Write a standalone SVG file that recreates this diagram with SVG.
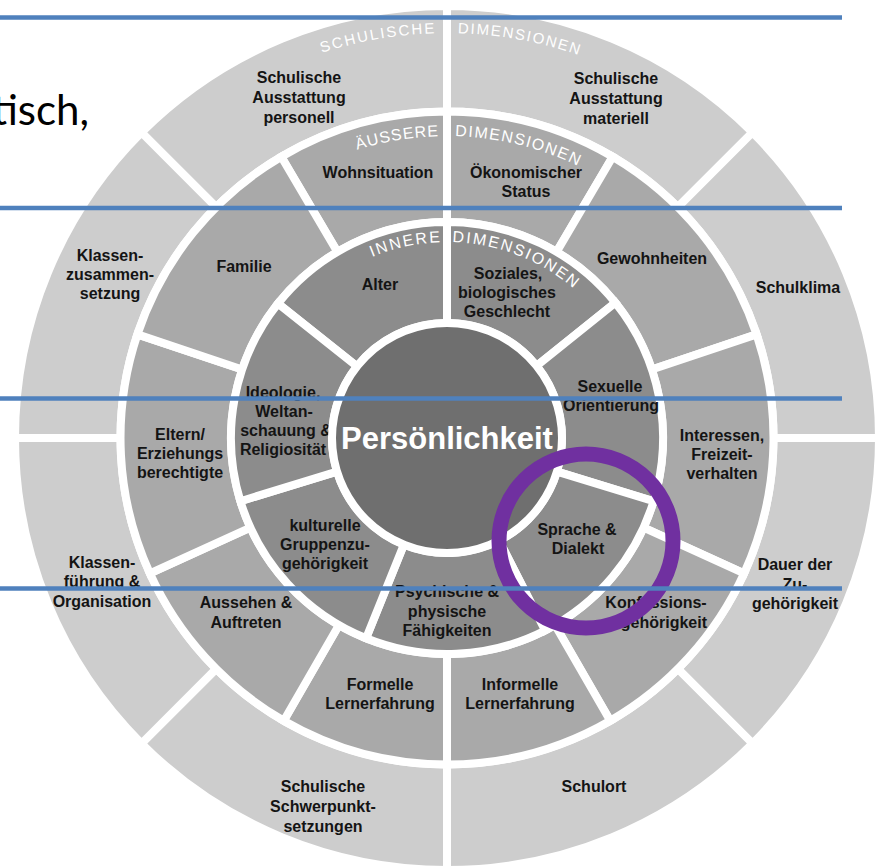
<svg xmlns="http://www.w3.org/2000/svg" xmlns:xlink="http://www.w3.org/1999/xlink" width="879" height="867" viewBox="0 0 879 867">
<defs>
<style>
.o{fill:#cdcdcd;stroke:#fff;stroke-width:8}
.m{fill:#a9a9a9;stroke:#fff;stroke-width:8}
.i{fill:#8c8c8c;stroke:#fff;stroke-width:8}
.lbl{font-family:"Liberation Sans",Arial,sans-serif;font-weight:bold;font-size:16px;fill:#141414;text-anchor:middle}
.arc{font-family:"Liberation Sans",Arial,sans-serif;fill:#fff;font-size:16px;letter-spacing:1.9px}
.blue{stroke:#4f81bd;stroke-width:4.5;fill:none}
</style>
<path id="arcOuter" d="M96.3,235.5 A405,405 0 0 1 797.7,235.5"/>
<path id="arcMid" d="M185.5,287 A302,302 0 0 1 708.5,287"/>
<path id="arcInner" d="M277.3,340 A196,196 0 0 1 616.7,340"/>
</defs>
<rect width="879" height="867" fill="#fff"/>

<g id="outer-ring">
<g id="o-personell"><path class="o" d="M141.5,132.5 A432,432 0 0 1 447,6 L447,111.5 A326.5,326.5 0 0 0 216.1,207.1 Z"/>
<text class="lbl"><tspan x="299" y="83">Schulische</tspan><tspan x="299" y="103">Ausstattung</tspan><tspan x="299" y="123">personell</tspan></text></g>
<g id="o-materiell"><path class="o" d="M447,6 A432,432 0 0 1 752.5,132.5 L677.9,207.1 A326.5,326.5 0 0 0 447,111.5 Z"/>
<text class="lbl"><tspan x="616" y="84">Schulische</tspan><tspan x="616" y="104">Ausstattung</tspan><tspan x="616" y="124">materiell</tspan></text></g>
<g id="o-schulklima"><path class="o" d="M752.5,132.5 A432,432 0 0 1 879,438 L773.5,438 A326.5,326.5 0 0 0 677.9,207.1 Z"/>
<text class="lbl" x="798" y="293">Schulklima</text></g>
<g id="o-dauer"><path class="o" d="M879,438 A432,432 0 0 1 752.5,743.5 L677.9,668.9 A326.5,326.5 0 0 0 773.5,438 Z"/>
<text class="lbl"><tspan x="795" y="570">Dauer der</tspan><tspan x="795" y="590">Zu-</tspan><tspan x="795" y="609">gehörigkeit</tspan></text></g>
<g id="o-schulort"><path class="o" d="M752.5,743.5 A432,432 0 0 1 447,870 L447,764.5 A326.5,326.5 0 0 0 677.9,668.9 Z"/>
<text class="lbl" x="594" y="792">Schulort</text></g>
<g id="o-schwerpunkt"><path class="o" d="M447,870 A432,432 0 0 1 141.5,743.5 L216.1,668.9 A326.5,326.5 0 0 0 447,764.5 Z"/>
<text class="lbl"><tspan x="323" y="792">Schulische</tspan><tspan x="323" y="812">Schwerpunkt-</tspan><tspan x="323" y="832">setzungen</tspan></text></g>
<g id="o-klassenfuehrung"><path class="o" d="M141.5,743.5 A432,432 0 0 1 15,438 L120.5,438 A326.5,326.5 0 0 0 216.1,668.9 Z"/>
<text class="lbl"><tspan x="102" y="568">Klassen-</tspan><tspan x="102" y="587">führung &amp;</tspan><tspan x="102" y="607">Organisation</tspan></text></g>
<g id="o-zusammensetzung"><path class="o" d="M15,438 A432,432 0 0 1 141.5,132.5 L216.1,207.1 A326.5,326.5 0 0 0 120.5,438 Z"/>
<text class="lbl"><tspan x="110" y="261">Klassen-</tspan><tspan x="110" y="280">zusammen-</tspan><tspan x="110" y="299">setzung</tspan></text></g>
</g>

<g id="middle-ring">
<g id="m-wohnsituation"><path class="m" d="M281.3,156.7 A326.5,326.5 0 0 1 447,111.5 L447,222 A216,216 0 0 0 337.4,251.9 Z"/>
<text class="lbl" x="378" y="178">Wohnsituation</text></g>
<g id="m-oekonomisch"><path class="m" d="M447,111.5 A326.5,326.5 0 0 1 612.7,156.7 L556.6,251.9 A216,216 0 0 0 447,222 Z"/>
<text class="lbl"><tspan x="526" y="178">Ökonomischer</tspan><tspan x="526" y="197">Status</tspan></text></g>
<g id="m-gewohnheiten"><path class="m" d="M612.7,156.7 A326.5,326.5 0 0 1 756.6,334.4 L651.8,369.5 A216,216 0 0 0 556.6,251.9 Z"/>
<text class="lbl" x="652" y="264">Gewohnheiten</text></g>
<g id="m-interessen"><path class="m" d="M756.6,334.4 A326.5,326.5 0 0 1 744.1,573.4 L643.6,527.6 A216,216 0 0 0 651.8,369.5 Z"/>
<text class="lbl"><tspan x="722" y="441">Interessen,</tspan><tspan x="722" y="460">Freizeit-</tspan><tspan x="722" y="479">verhalten</tspan></text></g>
<g id="m-konfession"><path class="m" d="M744.1,573.4 A326.5,326.5 0 0 1 610.25,720.75 L555,625.06 A216,216 0 0 0 643.6,527.6 Z"/>
<text class="lbl"><tspan x="656" y="608">Konfessions-</tspan><tspan x="655" y="628">zugehörigkeit</tspan></text></g>
<g id="m-informelle"><path class="m" d="M610.25,720.75 A326.5,326.5 0 0 1 447,764.5 L447,654 A216,216 0 0 0 555,625.06 Z"/>
<text class="lbl"><tspan x="520" y="690">Informelle</tspan><tspan x="520" y="709">Lernerfahrung</tspan></text></g>
<g id="m-formelle"><path class="m" d="M447,764.5 A326.5,326.5 0 0 1 283.75,720.75 L339,625.06 A216,216 0 0 0 447,654 Z"/>
<text class="lbl"><tspan x="380" y="690">Formelle</tspan><tspan x="380" y="709">Lernerfahrung</tspan></text></g>
<g id="m-aussehen"><path class="m" d="M283.75,720.75 A326.5,326.5 0 0 1 149.9,573.4 L250.4,527.6 A216,216 0 0 0 339,625.06 Z"/>
<text class="lbl"><tspan x="246" y="608">Aussehen &amp;</tspan><tspan x="246" y="628">Auftreten</tspan></text></g>
<g id="m-eltern"><path class="m" d="M149.9,573.4 A326.5,326.5 0 0 1 137.4,334.4 L242.2,369.5 A216,216 0 0 0 250.4,527.6 Z"/>
<text class="lbl"><tspan x="180" y="440">Eltern/</tspan><tspan x="180" y="459">Erziehungs</tspan><tspan x="180" y="478">berechtigte</tspan></text></g>
<g id="m-familie"><path class="m" d="M137.4,334.4 A326.5,326.5 0 0 1 281.3,156.7 L337.4,251.9 A216,216 0 0 0 242.2,369.5 Z"/>
<text class="lbl" x="244" y="272">Familie</text></g>
</g>

<g id="inner-ring">
<g id="i-alter"><path class="i" d="M278,303.5 A216,216 0 0 1 447,222 L447,323 A115,115 0 0 0 357,366.4 Z"/>
<text class="lbl" x="380" y="290">Alter</text></g>
<g id="i-geschlecht"><path class="i" d="M447,222 A216,216 0 0 1 615.4,302.7 L536.6,365.9 A115,115 0 0 0 447,323 Z"/>
<text class="lbl"><tspan x="508" y="279">Soziales,</tspan><tspan x="507" y="298">biologisches</tspan><tspan x="507" y="317">Geschlecht</tspan></text></g>
<g id="i-sexuelle"><path class="i" d="M615.4,302.7 A216,216 0 0 1 653.6,501.2 L557,471.6 A115,115 0 0 0 536.6,365.9 Z"/>
<text class="lbl"><tspan x="610" y="392">Sexuelle</tspan><tspan x="611" y="411">Orientierung</tspan></text></g>
<g id="i-sprache"><path class="i" d="M653.6,501.2 A216,216 0 0 1 545.1,630.5 L499.2,540.5 A115,115 0 0 0 557,471.6 Z"/>
<text class="lbl"><tspan x="577" y="535">Sprache &amp;</tspan><tspan x="578" y="554">Dialekt</tspan></text></g>
<g id="i-psychische"><path class="i" d="M545.1,630.5 A216,216 0 0 1 366.1,638.3 L403.9,544.6 A115,115 0 0 0 499.2,540.5 Z"/>
<text class="lbl"><tspan x="447" y="597">Psychische &amp;</tspan><tspan x="447" y="617">physische</tspan><tspan x="447" y="636">Fähigkeiten</tspan></text></g>
<g id="i-kulturelle"><path class="i" d="M366.1,638.3 A216,216 0 0 1 240.4,501.2 L337,471.6 A115,115 0 0 0 403.9,544.6 Z"/>
<text class="lbl"><tspan x="325" y="531">kulturelle</tspan><tspan x="325" y="550">Gruppenzu-</tspan><tspan x="325" y="569">gehörigkeit</tspan></text></g>
<g id="i-ideologie"><path class="i" d="M240.4,501.2 A216,216 0 0 1 278,303.5 L357,366.4 A115,115 0 0 0 337,471.6 Z"/>
<text class="lbl"><tspan x="283" y="398">Ideologie,</tspan><tspan x="284" y="417">Weltan-</tspan><tspan x="286" y="436">schauung &amp;</tspan><tspan x="283" y="455">Religiosität</tspan></text></g>
</g>

<g id="center">
<circle cx="447" cy="438" r="115" fill="#6f6f6f" stroke="#fff" stroke-width="8"/>
<text x="447" y="449" text-anchor="middle" font-family="Liberation Sans, Arial, sans-serif" font-weight="bold" font-size="31" fill="#fff">Persönlichkeit</text>
</g>

<g id="ring-titles">
<text class="arc" style="font-size:15px;letter-spacing:2px"><textPath href="#arcOuter" xlink:href="#arcOuter" startOffset="413.5" text-anchor="end">SCHULISCHE</textPath></text>
<text class="arc" style="font-size:15px;letter-spacing:1.7px"><textPath href="#arcOuter" xlink:href="#arcOuter" startOffset="434.7">DIMENSIONEN</textPath></text>
<text class="arc" style="letter-spacing:1px"><textPath href="#arcMid" xlink:href="#arcMid" startOffset="308.3" text-anchor="end">ÄUSSERE</textPath></text>
<text class="arc" style="letter-spacing:1.4px"><textPath href="#arcMid" xlink:href="#arcMid" startOffset="324.2">DIMENSIONEN</textPath></text>
<text class="arc"><textPath href="#arcInner" xlink:href="#arcInner" startOffset="200.1" text-anchor="end">INNERE</textPath></text>
<text class="arc"><textPath href="#arcInner" xlink:href="#arcInner" startOffset="210.4">DIMENSIONEN</textPath></text>
</g>

<g id="connectors"></g>

<g id="overlay">
<text x="89" y="125" text-anchor="end" font-family="Lato, 'Open Sans', sans-serif" font-size="42" fill="#000">tisch,</text>
<circle cx="586" cy="541" r="87" fill="none" stroke="#7030a0" stroke-width="15"/>
<line class="blue" x1="0" y1="17.5" x2="842" y2="17.5"/>
<line class="blue" x1="0" y1="208" x2="842" y2="208"/>
<line class="blue" x1="0" y1="398.5" x2="842" y2="398.5"/>
<line class="blue" x1="0" y1="588.5" x2="842" y2="588.5"/>
</g>
</svg>
